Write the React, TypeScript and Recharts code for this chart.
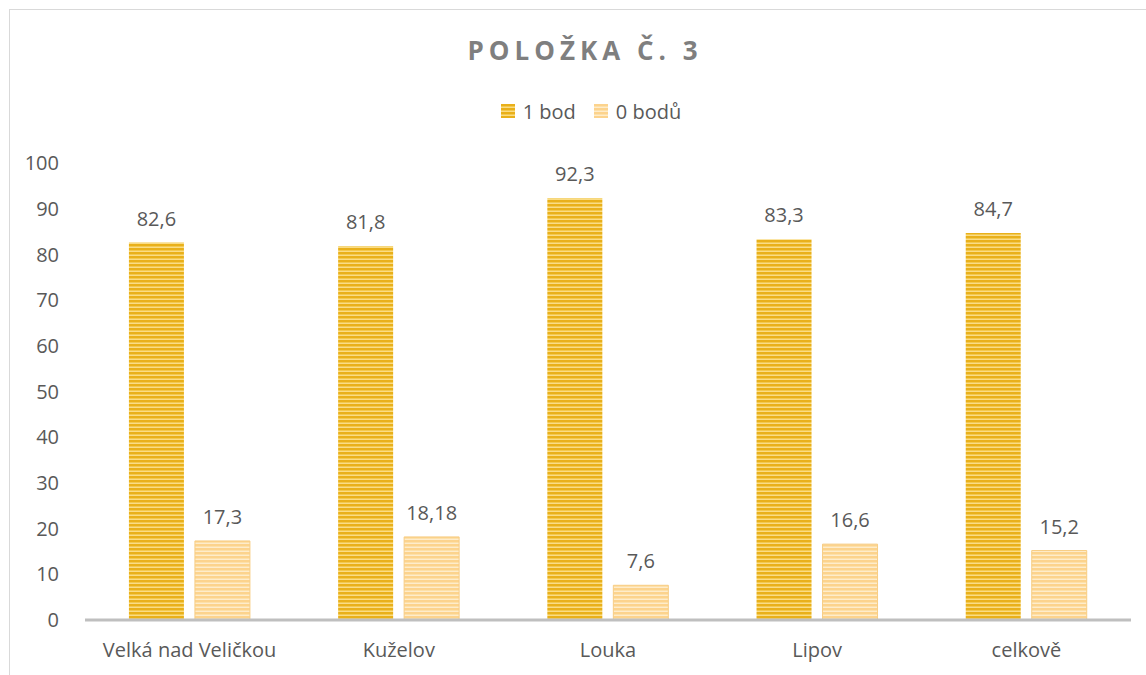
import { BarChart, Bar, XAxis, YAxis, LabelList, Legend } from 'recharts'

// Category names and series values
const categories = ['Velká nad Veličkou', 'Kuželov', 'Louka', 'Lipov', 'celkově']
const oneBod = [82.6, 81.8, 92.3, 83.3, 84.7]
const zeroBodu = [17.3, 18.18, 7.6, 16.6, 15.2]
const yTicks = [0, 10, 20, 30, 40, 50, 60, 70, 80, 90, 100]

const data = categories.map((name, i) => ({
  name,
  one: oneBod[i],
  zero: zeroBodu[i],
}))

const FONT = '"Open Sans", "Liberation Sans", sans-serif'
const TEXT = '#595959'
const FS = 20

// Decimal comma, like the original
const fmt = (v: any) => String(v).replace('.', ',')

const LegendContent = () => (
  <div
    style={{
      display: 'flex',
      justifyContent: 'center',
      alignItems: 'center',
      gap: 18,
      height: 26,
      paddingLeft: 36,
      fontFamily: FONT,
      fontSize: FS,
      color: TEXT,
    }}
  >
    <span style={{ display: 'flex', alignItems: 'center', gap: 8 }}>
      <svg width={14} height={14}>
        <rect width={14} height={14} fill="url(#stripeDark)" />
      </svg>
      1 bod
    </span>
    <span style={{ display: 'flex', alignItems: 'center', gap: 8 }}>
      <svg width={14} height={14}>
        <rect width={14} height={14} fill="url(#stripeLight)" />
      </svg>
      0 bodů
    </span>
  </div>
)

export default function App() {
  return (
    <div
      style={{
        position: 'absolute',
        left: 0,
        top: 0,
        width: 1146,
        height: 675,
        background: '#fff',
        overflow: 'hidden',
      }}
    >
      {/* chart frame */}
      <div
        style={{
          position: 'absolute',
          left: 9,
          top: 9,
          width: 1140,
          height: 700,
          border: '1px solid #d9d9d9',
        }}
      />
      <div
        style={{
          position: 'absolute',
          top: 32,
          left: 12,
          width: 1146,
          textAlign: 'center',
          fontFamily: FONT,
          fontSize: 26,
          fontWeight: 700,
          letterSpacing: 5,
          color: '#7f7f7f',
        }}
      >
        POLOŽKA Č. 3
      </div>
      <div style={{ position: 'absolute', left: 0, top: 0 }}>
        <BarChart
          width={1146}
          height={675}
          data={data}
          margin={{ top: 137, right: 15, bottom: 15, left: 25 }}
          barCategoryGap="21%"
          barGap={11}
        >
          <defs>
            <pattern id="stripeDark" width={4} height={4} patternUnits="userSpaceOnUse">
              <rect width={4} height={4} fill="#e9b01a" />
              <rect y={2} width={4} height={1} fill="#f3c94f" />
              <rect y={3} width={4} height={1} fill="#fadc85" />
            </pattern>
            <pattern id="stripeLight" width={4} height={4} patternUnits="userSpaceOnUse">
              <rect width={4} height={4} fill="#fcd38d" />
              <rect y={2} width={4} height={1} fill="#fde0a9" />
              <rect y={3} width={4} height={1} fill="#feeccb" />
            </pattern>
          </defs>
          <Legend
            verticalAlign="top"
            align="center"
            content={<LegendContent />}
            wrapperStyle={{ top: 98, left: 0, width: 1146 }}
          />
          <XAxis
            dataKey="name"
            axisLine={{ stroke: '#bfbfbf', strokeWidth: 3 }}
            tickLine={false}
            tick={{ fill: TEXT, fontSize: FS, fontFamily: FONT }}
            tickMargin={17}
            height={40}
          />
          <YAxis
            domain={[0, 100]}
            ticks={yTicks}
            axisLine={false}
            tickLine={false}
            tick={{ fill: TEXT, fontSize: FS, fontFamily: FONT }}
            tickMargin={20}
            width={60}
          />
          <Bar dataKey="one" name="1 bod" fill="url(#stripeDark)" isAnimationActive={false}>
            <LabelList
              dataKey="one"
              position="top"
              offset={17}
              formatter={fmt}
              style={{ fill: TEXT, fontSize: FS, fontFamily: FONT }}
            />
          </Bar>
          <Bar
            dataKey="zero"
            name="0 bodů"
            fill="url(#stripeLight)"
            stroke="#f7cd85"
            strokeWidth={1}
            isAnimationActive={false}
          >
            <LabelList
              dataKey="zero"
              position="top"
              offset={17}
              formatter={fmt}
              style={{ fill: TEXT, fontSize: FS, fontFamily: FONT }}
            />
          </Bar>
        </BarChart>
      </div>
    </div>
  )
}
